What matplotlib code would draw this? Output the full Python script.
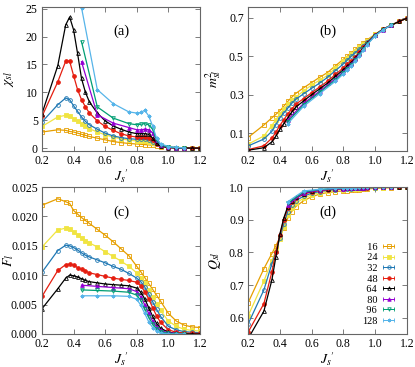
import numpy as np
import matplotlib
matplotlib.use('Agg')
import matplotlib.pyplot as plt

plt.rcParams['font.family'] = ['Liberation Serif', 'DejaVu Serif']
plt.rcParams['mathtext.fontset'] = 'stix'

# system sizes and styles
sizes = ['16', '24', '32', '48', '64', '80', '96', '128']
colors = ['#E69F00', '#F0E442', '#1f78b4', '#E51E10', 'black', '#9400D3', '#009E73', '#56B4E9']
markers = ['s', 's', 'o', 'o', '^', '^', 'v', (8, 2, 0)]
filled = [False, True, False, True, False, True, False, False]

# couplings for L = 16..64 and for L = 80..128
x_small = [0.2, 0.3, 0.35, 0.375, 0.4, 0.425, 0.45, 0.475, 0.5, 0.55, 0.6, 0.65, 0.7,
           0.75, 0.8, 0.825, 0.85, 0.875, 0.9, 0.925, 0.95, 1.0, 1.05, 1.1, 1.15, 1.2]
x_large = [0.45, 0.55, 0.65, 0.75, 0.8, 0.825, 0.85, 0.875, 0.9, 0.925, 0.95, 1.0, 1.05, 1.1]

# (a) susceptibility
chi_16 = [2.9, 3.3, 3.2, 3.0, 2.9, 2.7, 2.5, 2.3, 2.1, 1.8, 1.5, 1.2, 1.0, 0.85, 0.75, 0.7, 0.65, 0.6, 0.5, 0.4, 0.3, 0.2, 0.12, 0.08, 0.05, 0.04]
chi_24 = [3.9, 5.6, 5.9, 5.7, 5.3, 4.9, 4.4, 3.9, 3.5, 2.9, 2.4, 2.0, 1.7, 1.45, 1.3, 1.25, 1.25, 1.2, 1.0, 0.7, 0.45, 0.2, 0.1, 0.06, 0.04, 0.03]
chi_32 = [4.7, 7.8, 9.0, 8.7, 7.6, 6.6, 5.6, 4.8, 4.2, 3.4, 2.7, 2.2, 1.9, 1.7, 1.6, 1.6, 1.6, 1.5, 1.2, 0.7, 0.4, 0.15, 0.07, 0.04, 0.03, 0.02]
chi_48 = [5.7, 11.9, 15.6, 15.6, 13.0, 10.5, 8.7, 7.4, 6.3, 4.9, 3.9, 3.2, 2.6, 2.2, 2.0, 2.0, 2.0, 1.9, 1.5, 0.8, 0.4, 0.12, 0.06, 0.04, 0.03, 0.02]
chi_64 = [6.2, 14.8, 22.1, 23.5, 21.2, 17.0, 12.5, 10.0, 8.3, 6.3, 4.9, 4.0, 3.4, 2.9, 2.6, 2.6, 2.6, 2.5, 1.8, 0.9, 0.4, 0.1, 0.05, 0.03, 0.02, 0.02]
chi_80 = [15.5, 6.0, 4.5, 3.7, 3.3, 3.3, 3.4, 3.3, 2.8, 1.4, 0.6, 0.2, 0.1, 0.05]
chi_96 = [19.1, 7.4, 5.4, 4.4, 4.2, 4.3, 4.4, 4.2, 3.4, 1.5, 0.6, 0.2, 0.1, 0.05]
chi_128 = [25.2, 10.5, 8.0, 6.5, 6.3, 6.4, 6.8, 5.8, 4.0, 1.8, 0.8, 0.3, 0.15, 0.08]

# (b) squared order parameter
m2_16 = [0.078, 0.143, 0.18, 0.198, 0.216, 0.24, 0.265, 0.287, 0.306, 0.336, 0.363, 0.39, 0.415, 0.45, 0.484, 0.5, 0.517, 0.535, 0.553, 0.57, 0.585, 0.614, 0.64, 0.66, 0.68, 0.697]
m2_24 = [0.043, 0.086, 0.14, 0.17, 0.2, 0.225, 0.25, 0.27, 0.287, 0.32, 0.35, 0.375, 0.4, 0.438, 0.475, 0.492, 0.51, 0.528, 0.545, 0.563, 0.58, 0.614, 0.64, 0.66, 0.68, 0.697]
m2_32 = [0.034, 0.07, 0.11, 0.145, 0.18, 0.205, 0.23, 0.255, 0.276, 0.305, 0.333, 0.36, 0.39, 0.425, 0.46, 0.48, 0.5, 0.518, 0.536, 0.555, 0.575, 0.612, 0.64, 0.66, 0.68, 0.697]
m2_48 = [0.015, 0.035, 0.075, 0.105, 0.14, 0.17, 0.2, 0.225, 0.25, 0.28, 0.31, 0.34, 0.37, 0.405, 0.44, 0.457, 0.475, 0.495, 0.52, 0.545, 0.57, 0.61, 0.64, 0.66, 0.68, 0.697]
m2_64 = [0.012, 0.025, 0.055, 0.085, 0.12, 0.15, 0.18, 0.21, 0.235, 0.268, 0.3, 0.33, 0.36, 0.395, 0.43, 0.448, 0.467, 0.49, 0.515, 0.542, 0.568, 0.61, 0.64, 0.66, 0.68, 0.697]
m2_80 = [0.17, 0.255, 0.318, 0.383, 0.42, 0.44, 0.46, 0.483, 0.51, 0.538, 0.565, 0.608, 0.638, 0.66]
m2_96 = [0.16, 0.248, 0.312, 0.377, 0.415, 0.435, 0.455, 0.478, 0.505, 0.535, 0.563, 0.607, 0.638, 0.66]
m2_128 = [0.15, 0.24, 0.305, 0.37, 0.408, 0.428, 0.45, 0.473, 0.5, 0.53, 0.56, 0.606, 0.637, 0.66]

# (c) F_l
F_16 = [0.0219, 0.0230, 0.0225, 0.0222, 0.0210, 0.0204, 0.0198, 0.0193, 0.0188, 0.0178, 0.0168, 0.0157, 0.0145, 0.0133, 0.0115, 0.0106, 0.0096, 0.0086, 0.0076, 0.0066, 0.0056, 0.0035, 0.0022, 0.0015, 0.0012, 0.0011]
F_24 = [0.0148, 0.0177, 0.0180, 0.0178, 0.0173, 0.0168, 0.0163, 0.0159, 0.0155, 0.0148, 0.0140, 0.0132, 0.0124, 0.0115, 0.0104, 0.0096, 0.0086, 0.0075, 0.0063, 0.0051, 0.0040, 0.0022, 0.0013, 0.0008, 0.0006, 0.0005]
F_32 = [0.0105, 0.0142, 0.0151, 0.0150, 0.0147, 0.0143, 0.0138, 0.0134, 0.0131, 0.0126, 0.0121, 0.0115, 0.0110, 0.0103, 0.0095, 0.0089, 0.0080, 0.0068, 0.0055, 0.0042, 0.0030, 0.0013, 0.0007, 0.0004, 0.0003, 0.0002]
F_48 = [0.0064, 0.0108, 0.0118, 0.0119, 0.0117, 0.0113, 0.0110, 0.0107, 0.0104, 0.0101, 0.0098, 0.0095, 0.0093, 0.0091, 0.0088, 0.0082, 0.0072, 0.0060, 0.0045, 0.0031, 0.0020, 0.0007, 0.0003, 0.0002, 0.0001, 0.0001]
F_64 = [0.0043, 0.0077, 0.0095, 0.0100, 0.0099, 0.0097, 0.0094, 0.0091, 0.0089, 0.0087, 0.0085, 0.0084, 0.0083, 0.0082, 0.0078, 0.0071, 0.0060, 0.0045, 0.0030, 0.0018, 0.0010, 0.0003, 0.0001, 0.00005, 0.0, 0.0]
F_80 = [0.0083, 0.0081, 0.0079, 0.0077, 0.0072, 0.0063, 0.0050, 0.0035, 0.0022, 0.0012, 0.0006, 0.0002, 0.0001, 0.0]
F_96 = [0.0075, 0.0074, 0.0073, 0.0071, 0.0066, 0.0057, 0.0043, 0.0029, 0.0017, 0.0009, 0.0004, 0.0001, 0.0, 0.0]
F_128 = [0.0065, 0.0065, 0.0065, 0.0064, 0.0059, 0.0049, 0.0035, 0.0021, 0.0011, 0.0005, 0.0002, 0.0, 0.0, 0.0]

# (d) Q
Q_16 = [0.645, 0.750, 0.796, 0.820, 0.845, 0.875, 0.905, 0.925, 0.940, 0.958, 0.970, 0.978, 0.983, 0.986, 0.988, 0.989, 0.990, 0.991, 0.992, 0.993, 0.994, 0.996, 0.997, 0.998, 0.999, 1.0]
Q_24 = [0.605, 0.712, 0.775, 0.805, 0.840, 0.878, 0.915, 0.935, 0.950, 0.966, 0.976, 0.983, 0.987, 0.990, 0.992, 0.993, 0.994, 0.994, 0.995, 0.996, 0.996, 0.998, 0.998, 0.999, 0.999, 1.0]
Q_32 = [0.580, 0.685, 0.765, 0.800, 0.845, 0.887, 0.925, 0.945, 0.958, 0.972, 0.981, 0.986, 0.990, 0.992, 0.994, 0.995, 0.995, 0.996, 0.996, 0.997, 0.997, 0.998, 0.999, 0.999, 1.0, 1.0]
Q_48 = [0.555, 0.643, 0.740, 0.800, 0.853, 0.900, 0.935, 0.953, 0.965, 0.978, 0.985, 0.989, 0.992, 0.994, 0.995, 0.996, 0.996, 0.997, 0.997, 0.998, 0.998, 0.999, 0.999, 1.0, 1.0, 1.0]
Q_64 = [0.535, 0.620, 0.715, 0.785, 0.855, 0.905, 0.940, 0.958, 0.968, 0.980, 0.987, 0.991, 0.993, 0.995, 0.996, 0.997, 0.997, 0.998, 0.998, 0.998, 0.999, 0.999, 1.0, 1.0, 1.0, 1.0]
Q_80 = [0.945, 0.982, 0.990, 0.994, 0.995, 0.996, 0.997, 0.997, 0.998, 0.998, 0.999, 0.999, 1.0, 1.0]
Q_96 = [0.950, 0.985, 0.992, 0.995, 0.996, 0.997, 0.997, 0.998, 0.998, 0.999, 0.999, 1.0, 1.0, 1.0]
Q_128 = [0.955, 0.988, 0.993, 0.996, 0.997, 0.997, 0.998, 0.998, 0.999, 0.999, 0.999, 1.0, 1.0, 1.0]

panels = [
    ('(a)', r'$\chi_{sl}$', [chi_16, chi_24, chi_32, chi_48, chi_64, chi_80, chi_96, chi_128],
     (-0.5, 25.3), [0, 5, 10, 15, 20, 25], '%d', -0.16),
    ('(b)', r'$m^2_{sl}$', [m2_16, m2_24, m2_32, m2_48, m2_64, m2_80, m2_96, m2_128],
     (0.008, 0.755), [0.1, 0.3, 0.5, 0.7], '%.1f', -0.155),
    ('(c)', r'$F_l$', [F_16, F_24, F_32, F_48, F_64, F_80, F_96, F_128],
     (0.0, 0.025), [0, 0.005, 0.01, 0.015, 0.02, 0.025], '%.3f', -0.165),
    ('(d)', r'$Q_{sl}$', [Q_16, Q_24, Q_32, Q_48, Q_64, Q_80, Q_96, Q_128],
     (0.55, 1.0), [0.6, 0.7, 0.8, 0.9, 1.0], '%.1f', -0.155),
]

W, H = 415, 367
boxes = [(42, 7, 200, 151), (248, 7, 407, 151), (42, 187, 200, 334), (248, 187, 407, 334)]

fig = plt.figure(figsize=(4.15, 3.67), dpi=100)
frame = '#666666'

for (tag, ylab, series, ylim, yticks, fmt, labx), (l, t, r, b) in zip(panels, boxes):
    ax = fig.add_axes([l / W, 1 - b / H, (r - l) / W, (b - t) / H])
    for i, y in enumerate(series):
        x = x_small if i < 5 else x_large
        ax.plot(x, y, color=colors[i], marker=markers[i], markersize=2.7, lw=0.9,
                mfc=colors[i] if filled[i] else 'none', mew=0.6)
    ax.set_xlim(0.2, 1.2)
    ax.set_ylim(*ylim)
    ax.set_xticks([0.2, 0.4, 0.6, 0.8, 1.0, 1.2])
    ax.set_xticklabels(['0.2', '0.4', '0.6', '0.8', '1.0', '1.2'])
    ax.set_yticks(yticks)
    ax.set_yticklabels([fmt % v for v in yticks])
    ax.tick_params(direction='in', top=True, right=True, length=3.5, width=0.6,
                   color=frame, labelsize=8.5, pad=3)
    for s in ax.spines.values():
        s.set_color(frame)
        s.set_linewidth(0.8)
    ax.set_xlabel(r"$J_s{}'$", fontsize=10, labelpad=0)
    ax.set_ylabel(ylab, fontsize=10)
    ax.yaxis.set_label_coords(labx, 0.5)
    ax.text(0.5, 0.83, tag, transform=ax.transAxes, fontsize=10.5, ha='center', va='center')

    if tag == '(d)':
        handles = []
        for i in range(8):
            h = ax.errorbar([np.nan], [np.nan], xerr=[0.01], color=colors[i], marker=markers[i],
                            markersize=2.5, lw=0.7, mfc=colors[i] if filled[i] else 'none',
                            mew=0.6, capsize=1.5, elinewidth=0.6)
            handles.append(h)
        labels = ['\u2007' * (3 - len(s)) + s for s in sizes]
        ax.legend(handles, labels, loc='lower right', bbox_to_anchor=(0.97, 0.0),
                  frameon=False, markerfirst=False, fontsize=7.5, handlelength=1.0,
                  handletextpad=0.6, labelspacing=0.12, borderaxespad=0.4)

fig.savefig('out.png', dpi=100)
